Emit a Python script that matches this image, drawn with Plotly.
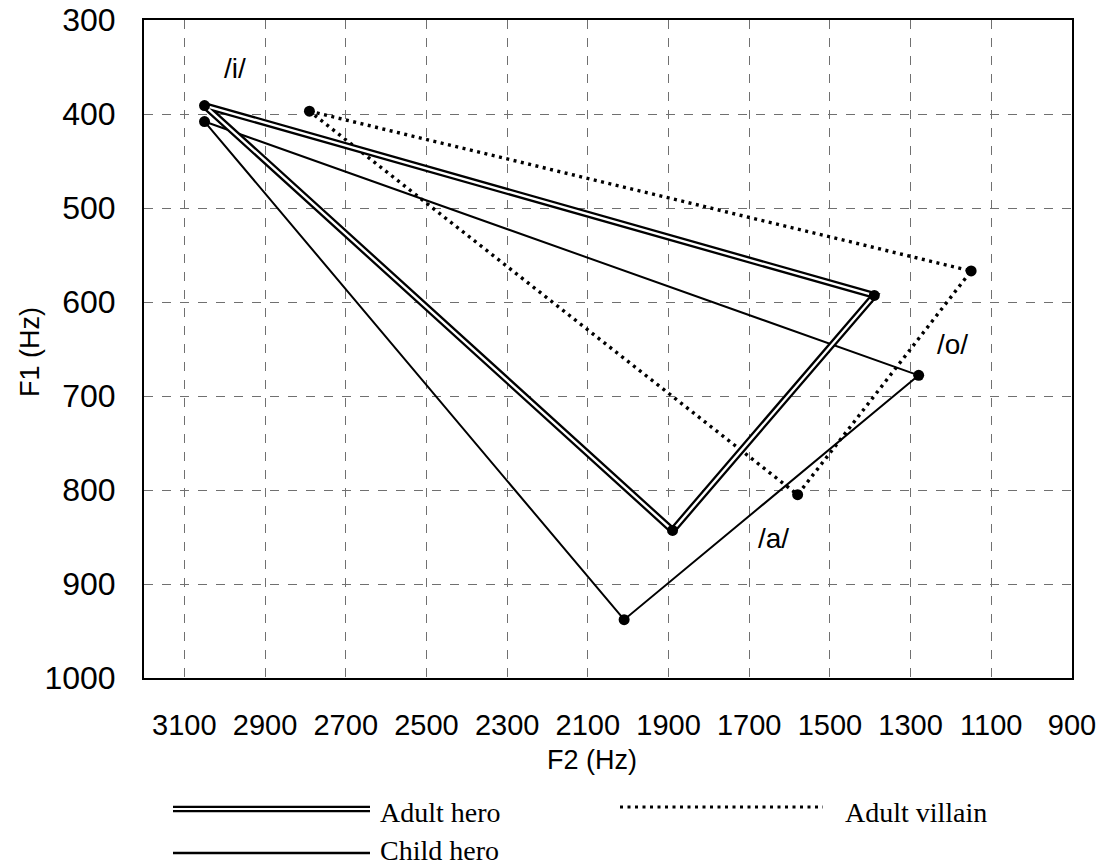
import plotly.graph_objects as go

# ---- data (F2 on x, F1 on y) ----
vowels = ["/i/", "/o/", "/a/"]
adult_hero_f2 = [3050, 1390, 1890]
adult_hero_f1 = [391, 593, 843]
child_hero_f2 = [3050, 1280, 2010]
child_hero_f1 = [408, 678, 938]
adult_villain_f2 = [2790, 1150, 1580]
adult_villain_f1 = [397, 567, 805]

label_f2 = [2975, 1195, 1640]
label_f1 = [352, 645, 852]

x_ticks = [3100, 2900, 2700, 2500, 2300, 2100, 1900, 1700, 1500, 1300, 1100, 900]
y_ticks = [300, 400, 500, 600, 700, 800, 900, 1000]

W, H = 1104, 865
ML, MR, MT, MB = 144, 32, 20, 187
PW, PH = W - ML - MR, H - MT - MB


def px(x):
    return (x - ML) / PW


def py(y):
    return (H - MB - y) / PH


def closed(v):
    return list(v) + [v[0]]


fig = go.Figure()

# Child hero: thin solid
fig.add_trace(go.Scatter(x=closed(child_hero_f2), y=closed(child_hero_f1), mode="lines",
                         line=dict(color="black", width=2), showlegend=False, hoverinfo="skip"))
# Adult villain: dotted
fig.add_trace(go.Scatter(x=closed(adult_villain_f2), y=closed(adult_villain_f1), mode="lines",
                         line=dict(color="black", width=3.4, dash="3px,4.5px"), showlegend=False,
                         hoverinfo="skip"))
# Adult hero: double line (thick black + thin white core)
fig.add_trace(go.Scatter(x=closed(adult_hero_f2), y=closed(adult_hero_f1), mode="lines",
                         line=dict(color="black", width=7), showlegend=False, hoverinfo="skip"))
fig.add_trace(go.Scatter(x=closed(adult_hero_f2), y=closed(adult_hero_f1), mode="lines",
                         line=dict(color="white", width=2.4), showlegend=False, hoverinfo="skip"))
# vertex markers
for f2, f1 in [(adult_hero_f2, adult_hero_f1), (child_hero_f2, child_hero_f1),
               (adult_villain_f2, adult_villain_f1)]:
    fig.add_trace(go.Scatter(x=f2, y=f1, mode="markers",
                             marker=dict(color="black", size=11), showlegend=False, hoverinfo="skip"))

sans = "Liberation Sans, Arial, Helvetica"
serif = "Liberation Serif, Times New Roman, Times"

annotations = []
for t, x, y in zip(vowels, label_f2, label_f1):
    annotations.append(dict(x=x, y=y, xref="x", yref="y", text=t, showarrow=False,
                            xanchor="center", yanchor="middle",
                            font=dict(family=sans, size=28, color="black")))

# axis titles
annotations.append(dict(x=px(592), y=py(760), xref="paper", yref="paper", text="F2 (Hz)",
                        xanchor="center", yanchor="middle", showarrow=False,
                        font=dict(family=sans, size=27, color="black")))
annotations.append(dict(x=px(30), y=py(352), xref="paper", yref="paper", text="F1 (Hz)", textangle=-90,
                        xanchor="center", yanchor="middle", showarrow=False,
                        font=dict(family=sans, size=27, color="black")))

# legend (drawn manually)
legend_font = dict(family=serif, size=28, color="black")
annotations.append(dict(x=px(378), y=py(812), xref="paper", yref="paper", text="Adult hero",
                        xanchor="left", yanchor="middle", showarrow=False, font=legend_font))
annotations.append(dict(x=px(378), y=py(850), xref="paper", yref="paper", text="Child hero",
                        xanchor="left", yanchor="middle", showarrow=False, font=legend_font))
annotations.append(dict(x=px(843), y=py(812), xref="paper", yref="paper", text="Adult villain",
                        xanchor="left", yanchor="middle", showarrow=False, font=legend_font))

shapes = [
    dict(type="line", xref="paper", yref="paper", x0=px(173), x1=px(370), y0=py(809), y1=py(809),
         line=dict(color="black", width=6.5)),
    dict(type="line", xref="paper", yref="paper", x0=px(173), x1=px(370), y0=py(809), y1=py(809),
         line=dict(color="white", width=2)),
    dict(type="line", xref="paper", yref="paper", x0=px(173), x1=px(370), y0=py(853), y1=py(853),
         line=dict(color="black", width=2.4)),
    dict(type="line", xref="paper", yref="paper", x0=px(620), x1=px(823), y0=py(807), y1=py(807),
         line=dict(color="black", width=3, dash="3px,4.5px")),
]

fig.update_layout(
    width=W, height=H,
    margin=dict(l=ML, r=MR, t=MT, b=MB, autoexpand=False),
    paper_bgcolor="white", plot_bgcolor="white",
    annotations=annotations, shapes=shapes,
    xaxis=dict(range=[3200, 900], tickmode="array", tickvals=x_ticks, ticktext=[str(v) for v in x_ticks],
               showgrid=True, gridcolor="#707070", griddash="dash", gridwidth=1,
               showline=True, mirror=True, linecolor="black", linewidth=2, zeroline=False,
               ticks="", ticklabelstandoff=20, automargin=False,
               tickfont=dict(family=sans, size=29, color="black")),
    yaxis=dict(range=[1000, 300], tickmode="array", tickvals=y_ticks, ticktext=[str(v) for v in y_ticks],
               showgrid=True, gridcolor="#707070", griddash="dash", gridwidth=1,
               showline=True, mirror=True, linecolor="black", linewidth=2, zeroline=False,
               ticks="", ticklabelstandoff=20, automargin=False,
               tickfont=dict(family=sans, size=32, color="black")),
)

fig.write_html("out.html")
